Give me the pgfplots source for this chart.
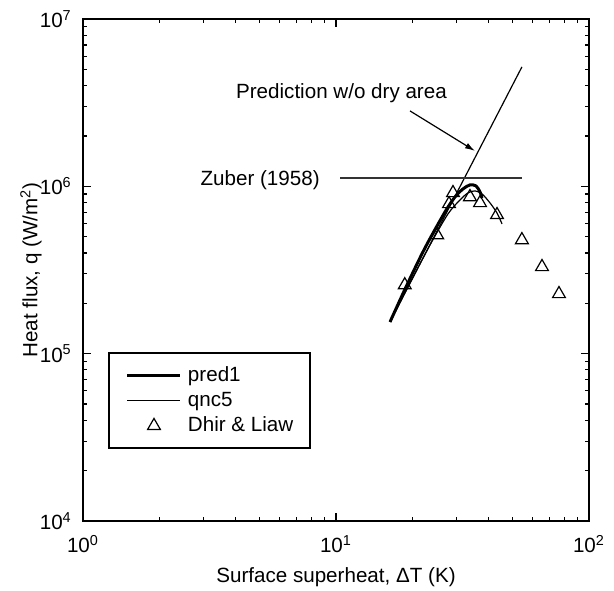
\documentclass[border=0pt]{standalone}
\usepackage{fontspec}
\setmainfont{Liberation Sans}
\usepackage{pgfplots}
\pgfplotsset{compat=1.18}
\usetikzlibrary{arrows.meta}
\pgfplotsset{
  lineleg/.style={legend image code/.code={\draw[##1] (0bp,0bp) -- (26.5bp,0bp);}},
  markleg/.style={legend image code/.code={\draw[##1] plot coordinates {(13.25bp,0bp)};}},
}

\begin{document}
\fontsize{10.3bp}{12.4bp}\selectfont
\begin{tikzpicture}
\path[use as bounding box] (-41.5bp,-35bp) rectangle (265.5bp,260.5bp);
\begin{axis}[
  xmode=log, ymode=log,
  scale only axis, width=253bp, height=251bp,
  xmin=1, xmax=100, ymin=1e4, ymax=1e7,
  axis line style={line width=1bp},
  every tick/.style={line width=0.6bp, black},
  major tick length=4bp, minor tick length=2bp,
  tick align=inside, tick pos=both,
  xtick={1,10,100},
  xticklabels={10\textsuperscript{0},10\textsuperscript{1},10\textsuperscript{2}},
  ytick={1e4,1e5,1e6,1e7},
  yticklabels={10\textsuperscript{4},10\textsuperscript{5},10\textsuperscript{6},10\textsuperscript{7}},
  ticklabel style={font=\fontsize{10.3bp}{12.4bp}\selectfont},
  yticklabel style={xshift=-2bp},
  xticklabel style={yshift=-3.5bp},
  xlabel={Surface superheat, ΔT (K)},
  ylabel={Heat flux, q (W/m\textsuperscript{2})},
  xlabel style={at={(axis description cs:0.5,-0.1116)}, anchor=center},
  ylabel style={at={(axis description cs:-0.1028,0.5)}, anchor=center},
  legend style={at={(rel axis cs:0.0494,0.336)}, anchor=north west,
    draw=black, line width=1bp, fill=white,
    inner xsep=8.5bp, inner ysep=6.4bp, row sep=2.8bp,
    nodes={inner sep=0bp, text height=7.5bp, text depth=2.2bp},
    font=\fontsize{10.3bp}{12.4bp}\selectfont},
  legend cell align=left,
  /tikz/every odd column/.append style={column sep=3bp},
]
\addplot[black, line width=1.5bp, smooth, lineleg]
  coordinates {
  (16.35,1.547e5) (19.08,2.574e5) (22.48,4.283e5) (26.97,7.03e5)
  (29.54,8.64e5) (31.77,9.65e5) (33.85,1.0195e6) (35.76,1.0056e6)
  (37.09,9.26e5) (37.77,8.52e5)
};
\addlegendentry{pred1}
\addplot[black, line width=0.6bp, lineleg]
  coordinates {(16.35,1.547e5) (54.3,5.17e6)};
\addlegendentry{qnc5}
\addplot[black, only marks, mark=triangle, mark size=3.7bp, line width=0.6bp, markleg]
  coordinates {
  (18.7,2.57e5) (25.1,5.12e5) (27.97,7.85e5) (29.0,9.13e5) (33.85,8.64e5)
  (37.1,7.96e5) (43.3,6.75e5) (54.3,4.78e5) (65.2,3.30e5) (76.1,2.275e5)
};
\addlegendentry{Dhir \& Liaw}
\addplot[black, line width=0.6bp, smooth, forget plot] coordinates {
  (16.35,1.547e5) (19.61,2.646e5) (23.53,4.464e5) (27.71,6.84e5)
  (30.91,8.29e5) (33.24,9.13e5) (35.43,9.39e5) (37.77,9.01e5)
  (40.62,7.96e5) (43.29,6.93e5) (45.31,5.96e5)
};
\addplot[black!80, line width=0.8bp, forget plot]
  coordinates {(10.4,1.12e6) (54.3,1.12e6)};
\draw[line width=0.6bp, -{Latex[length=5bp,width=3bp]}]
  (axis cs:19.61,2.823e6) -- (axis cs:35.43,1.627e6);
\node[anchor=base] at (axis cs:10.51,3.33e6) {Prediction w/o dry area};
\node[anchor=base east] at (axis cs:9.21,1.006e6) {Zuber (1958)};
\end{axis}
\end{tikzpicture}
\end{document}
